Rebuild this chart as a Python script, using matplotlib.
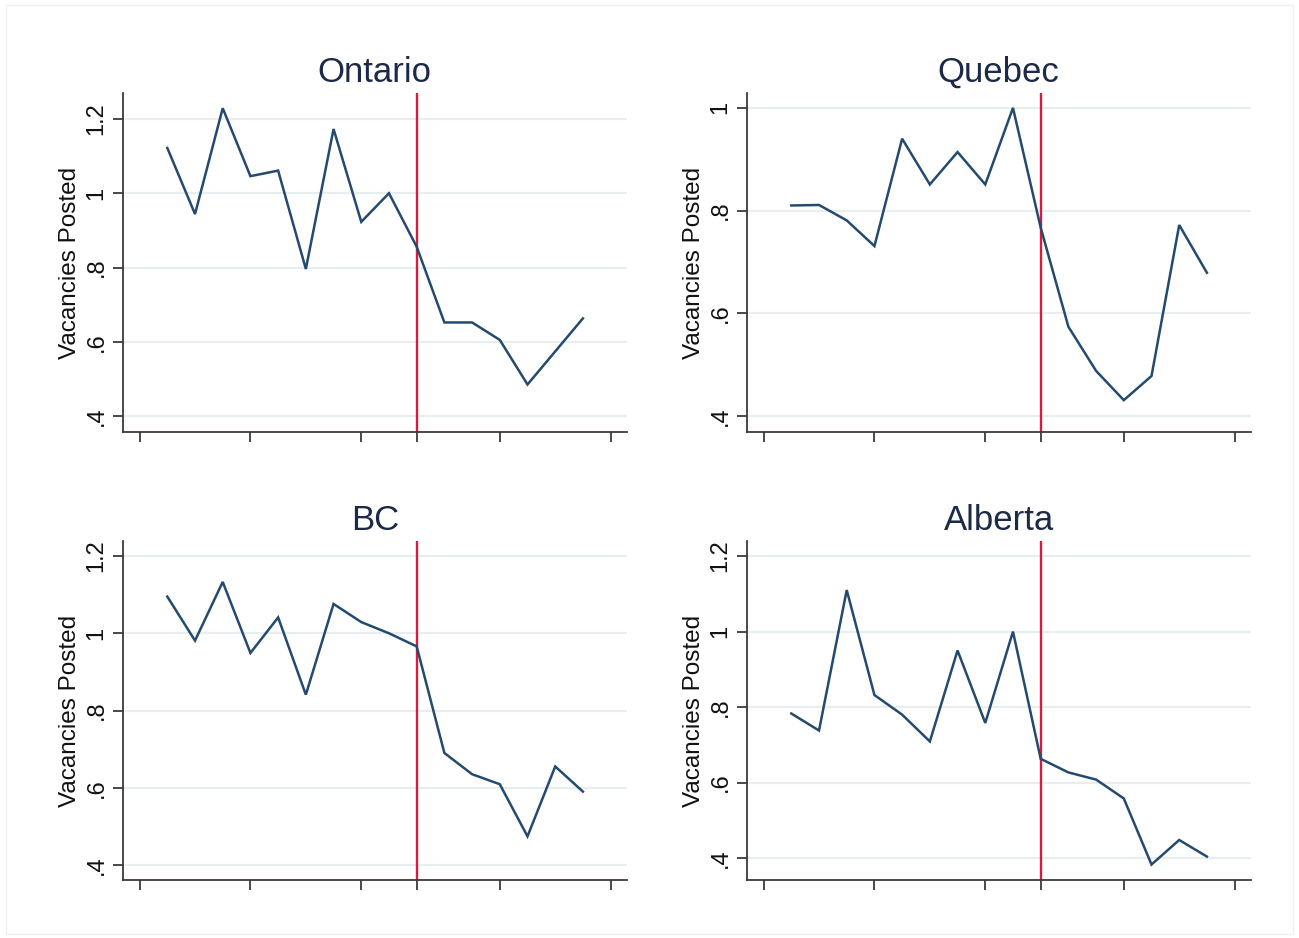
import matplotlib
matplotlib.use("Agg")
import matplotlib.pyplot as plt
from matplotlib.patches import Rectangle

plt.rcParams['font.family'] = ['Liberation Sans', 'DejaVu Sans']

periods = list(range(16))
xticks = [-1, 3, 7, 9, 12, 16]
event_period = 9

provinces = ["Ontario", "Quebec", "BC", "Alberta"]

ontario = [1.122, 0.944, 1.229, 1.046, 1.061, 0.796, 1.173, 0.923, 1.000, 0.856,
           0.652, 0.652, 0.605, 0.485, 0.574, 0.663]
quebec = [0.810, 0.811, 0.781, 0.731, 0.940, 0.851, 0.914, 0.851, 1.000, 0.767,
          0.574, 0.488, 0.431, 0.478, 0.772, 0.679]
bc = [1.095, 0.981, 1.133, 0.949, 1.041, 0.841, 1.076, 1.029, 1.000, 0.966,
      0.690, 0.635, 0.609, 0.474, 0.655, 0.590]
alberta = [0.783, 0.738, 1.110, 0.832, 0.780, 0.709, 0.950, 0.758, 1.000, 0.663,
           0.627, 0.608, 0.558, 0.383, 0.448, 0.404]

series = [ontario, quebec, bc, alberta]

yticks = [
    [0.4, 0.6, 0.8, 1.0, 1.2],
    [0.4, 0.6, 0.8, 1.0],
    [0.4, 0.6, 0.8, 1.0, 1.2],
    [0.4, 0.6, 0.8, 1.0, 1.2],
]
ytick_labels = [
    [".4", ".6", ".8", "1", "1.2"],
    [".4", ".6", ".8", "1"],
    [".4", ".6", ".8", "1", "1.2"],
    [".4", ".6", ".8", "1", "1.2"],
]
ylims = [(0.357, 1.27), (0.369, 1.029), (0.361, 1.239), (0.342, 1.240)]

W, H = 1299, 938
fig = plt.figure(figsize=(W / 100, H / 100), dpi=100)
fig.patch.set_facecolor("white")

# faint outer frame
fig.patches.append(Rectangle((6 / W, 4 / H), (W - 12) / W, (H - 9) / H,
                             transform=fig.transFigure, fill=False,
                             edgecolor="#f0f0f0", linewidth=1.0))

lefts = [122.7, 746.7]
tops = [93, 541]
aw, ah = 504, 339

navy = "#244a6f"
red = "#d81b3f"
grid = "#e6eef0"
axcol = "#3a3a3a"
title_col = "#1c2a48"

for k, (name, vals) in enumerate(zip(provinces, series)):
    r, c = divmod(k, 2)
    left = lefts[c] / W
    bottom = 1 - (tops[r] + ah) / H
    ax = fig.add_axes([left, bottom, aw / W, ah / H])
    ax.set_xlim(-1.61, 16.58)
    ax.set_ylim(*ylims[k])
    ax.set_yticks(yticks[k])
    ax.set_yticklabels(ytick_labels[k])
    ax.set_xticks(xticks)
    ax.set_xticklabels([])
    for t in yticks[k]:
        ax.axhline(t, color=grid, lw=1.6, zorder=0)
    ax.axvline(event_period, color=red, lw=1.7, zorder=2)
    ax.plot(periods, vals, color=navy, lw=1.8, zorder=3, solid_joinstyle="miter")
    for s in ["top", "right"]:
        ax.spines[s].set_visible(False)
    for s in ["left", "bottom"]:
        ax.spines[s].set_color(axcol)
        ax.spines[s].set_linewidth(1.3)
    ax.tick_params(axis="both", direction="out", length=7.0, width=1.3,
                   color=axcol, labelsize=17, labelcolor="#111111")
    ax.tick_params(axis="y", labelrotation=90, pad=4)
    for lab in ax.get_yticklabels():
        lab.set_va("center")
    ax.set_ylabel("Vacancies Posted", fontsize=17.5, color="#111111", labelpad=3)
    ax.set_title(name, fontsize=25, color=title_col, pad=8)

fig.savefig("out.png", dpi=100, facecolor="white")
